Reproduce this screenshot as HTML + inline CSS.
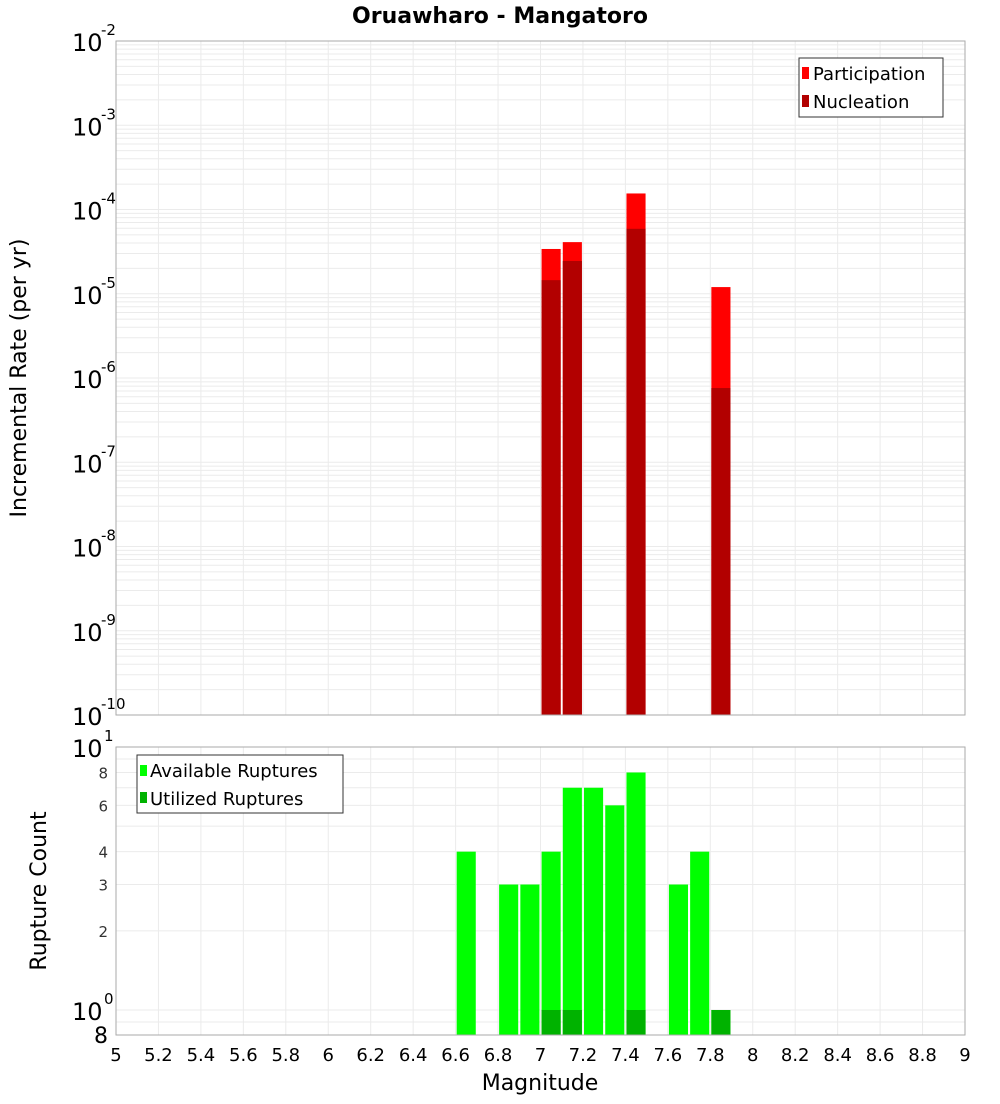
<!DOCTYPE html>
<html><head><meta charset="utf-8"><style>
body{margin:0;background:#fff;font-family:"DejaVu Sans","Liberation Sans",sans-serif}
svg text{font-family:"DejaVu Sans","Liberation Sans",sans-serif}
</style></head><body>
<svg id="chart" width="1000" height="1100" xmlns="http://www.w3.org/2000/svg"></svg>
<script>
const rateBins=[7.05,7.15,7.45,7.85];
const participation=[3.4e-5,4.1e-5,1.55e-4,1.2e-5];
const nucleation=[1.45e-5,2.45e-5,5.9e-5,7.6e-7];
const countBins=[6.65,6.85,6.95,7.05,7.15,7.25,7.35,7.45,7.65,7.75,7.85];
const available=[4,3,3,4,7,7,6,8,3,4,1];
const utilizedBins=[7.05,7.15,7.45,7.85];
const utilized=[1,1,1,1];
const xTicks=[5,5.2,5.4,5.6,5.8,6,6.2,6.4,6.6,6.8,7,7.2,7.4,7.6,7.8,8,8.2,8.4,8.6,8.8,9];
const topExps=[-2,-3,-4,-5,-6,-7,-8,-9,-10];
const botTicks=[2,3,4,6,8];

const svg=document.getElementById('chart');
const NS='http://www.w3.org/2000/svg';
function mk(tag,attrs,parent){const e=document.createElementNS(NS,tag);for(const k in attrs)e.setAttribute(k,attrs[k]);(parent||svg).appendChild(e);return e;}
const X0=116,X1=965;
const x=m=>X0+(m-5)/4*(X1-X0);
const T0=41,T1=715;
const yTop=v=>T0+(-2-Math.log10(v))/8*(T1-T0);
const B0=747,B1=1035;
const yBot=v=>1010-Math.log10(v)*263;

// title
let t=mk('text',{x:500,y:23,'text-anchor':'middle','font-size':22,'font-weight':'bold'});
t.textContent='Oruawharo - Mangatoro';



// top grid
let g=mk('g',{stroke:'#ebebeb','stroke-width':1});


for(let d=-10;d<-2;d++)for(let k=1;k<10;k++){const yy=yTop(k*Math.pow(10,d));mk('line',{x1:X0,x2:X1,y1:yy,y2:yy},g);}
xTicks.forEach(m=>mk('line',{x1:x(m),x2:x(m),y1:T0,y2:T1},g));
// bottom grid
let g2=mk('g',{stroke:'#ebebeb','stroke-width':1});


[0.9,1,2,3,4,5,6,7,8,9].forEach(v=>{const yy=yBot(v);mk('line',{x1:X0,x2:X1,y1:yy,y2:yy},g2);});
xTicks.forEach(m=>mk('line',{x1:x(m),x2:x(m),y1:B0,y2:B1},g2));

// top bars
rateBins.forEach((m,i)=>{
 let r=mk('rect',{x:x(m-0.045),y:yTop(participation[i]),width:x(m+0.045)-x(m-0.045),height:T1-yTop(participation[i]),fill:'#ff0000'});
 
 
 let n=mk('rect',{x:x(m-0.045),y:yTop(nucleation[i]),width:x(m+0.045)-x(m-0.045),height:T1-yTop(nucleation[i]),fill:'#b20000'});
 
 
});
// bottom bars
countBins.forEach((m,i)=>{
 let r=mk('rect',{x:x(m-0.045),y:yBot(available[i]),width:x(m+0.045)-x(m-0.045),height:B1-yBot(available[i]),fill:'#00ff00'});
 
 
});
utilizedBins.forEach((m,i)=>{
 let r=mk('rect',{x:x(m-0.045),y:yBot(utilized[i]),width:x(m+0.045)-x(m-0.045),height:B1-yBot(utilized[i]),fill:'#00b200'});
 
 
});

// frames
let f1=mk('rect',{x:X0,y:T0,width:X1-X0,height:T1-T0,fill:'none',stroke:'#aaa'});


let f2=mk('rect',{x:X0,y:B0,width:X1-X0,height:B1-B0,fill:'none',stroke:'#aaa'});



// top y ticks
topExps.forEach(e=>{
 const yy=yTop(Math.pow(10,e));
 let tx=mk('text',{x:72,y:yy+10,'font-size':24});
 tx.textContent='10';
 
 
 let sp=mk('text',{x:101,y:yy-6,'font-size':15});
 sp.textContent=String(e);
 
 
});
// bottom y ticks
[[10,'1'],[1,'0']].forEach(([v,e])=>{
 const yy=yBot(v);
 let tx=mk('text',{x:72,y:yy+10,'font-size':24});
 tx.textContent='10';
 
 
 let sp=mk('text',{x:104,y:yy-6,'font-size':15});
 sp.textContent=e;
 
 
});
botTicks.forEach(v=>{
 let tx=mk('text',{x:108,y:yBot(v)+6,'font-size':15,'text-anchor':'end',fill:'#333'});
 tx.textContent=String(v);
 
 
});
let e8=mk('text',{x:108,y:1043,'font-size':22,'text-anchor':'end'});
e8.textContent='8';



// x ticks
xTicks.forEach(m=>{
 let tx=mk('text',{x:x(m),y:1061,'font-size':18,'text-anchor':'middle'});
 tx.textContent=String(m);
 
 
});
let xt=mk('text',{x:540,y:1090,'font-size':22,'text-anchor':'middle'});
xt.textContent='Magnitude';


let yt=mk('text',{x:0,y:0,'font-size':22,'text-anchor':'middle',transform:'translate(26,378) rotate(-90)'});
yt.textContent='Incremental Rate (per yr)';


let yt2=mk('text',{x:0,y:0,'font-size':22,'text-anchor':'middle',transform:'translate(46,891) rotate(-90)'});
yt2.textContent='Rupture Count';



// legends
let l1=mk('g',{});


mk('rect',{x:799,y:58,width:144,height:59,fill:'#fff',stroke:'#333'},l1);
mk('rect',{x:802,y:67,width:7,height:12,fill:'#ff0000'},l1);
mk('rect',{x:802,y:95,width:7,height:12,fill:'#b20000'},l1);
let a=mk('text',{x:813,y:80,'font-size':18},l1);a.textContent='Participation';


let b=mk('text',{x:813,y:108,'font-size':18},l1);b.textContent='Nucleation';



let l2=mk('g',{});


mk('rect',{x:137,y:755,width:206,height:58,fill:'#fff',stroke:'#333'},l2);
mk('rect',{x:140,y:765,width:7,height:11,fill:'#00ff00'},l2);
mk('rect',{x:140,y:792,width:7,height:11,fill:'#00b200'},l2);
let c=mk('text',{x:150,y:777,'font-size':18},l2);c.textContent='Available Ruptures';


let d=mk('text',{x:150,y:805,'font-size':18},l2);d.textContent='Utilized Ruptures';


</script>
</body></html>
